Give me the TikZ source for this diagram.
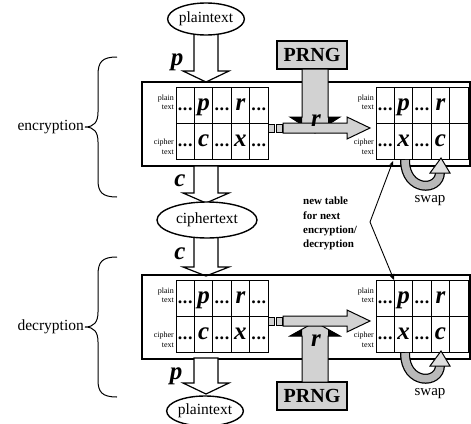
\documentclass[tikz,border=0pt]{standalone}
\usepackage{fontspec}
\setmainfont{Liberation Serif}
\usetikzlibrary{arrows.meta,shapes.geometric}
\newcommand\dd{{\fontsize{18}{18}\selectfont\bfseries\upshape.\kern0.6pt.\kern0.6pt.}}
\tikzset{
 cellbox/.style={draw, line width=0.9pt, minimum width=18.4pt, minimum height=36pt, inner sep=0pt, text height=23pt, text depth=13pt, font=\fontsize{25}{25}\selectfont\bfseries\itshape},
 lbl/.style={font=\fontsize{8}{9.5}\selectfont, align=right, anchor=east, inner sep=0pt},
 ell/.style={ellipse, draw, line width=1.4pt, fill=white, inner sep=0pt, font=\fontsize{15.5}{15.5}\selectfont},
 wblock/.style={draw, line width=1.2pt, fill=white, line join=miter},
 gblock/.style={draw, line width=1pt, fill=gray!35},
 wing/.style={fill=black},
 prngbox/.style={draw, line width=1.6pt, fill=gray!35, font=\fontsize{20}{20}\selectfont\bfseries, minimum width=70pt, minimum height=28pt, inner sep=0pt},
 framebox/.style={draw, line width=2.2pt, minimum width=328pt, minimum height=84pt, inner sep=0pt},
 var/.style={font=\fontsize{25}{25}\selectfont\bfseries\itshape, inner sep=0pt},
 side/.style={font=\fontsize{15.5}{15.5}\selectfont, anchor=east, inner sep=1pt},
 bracepath/.style={line width=1pt},
 swaplbl/.style={font=\fontsize{15}{15}\selectfont, inner sep=0pt},
 note/.style={font=\fontsize{11}{14.3}\selectfont\bfseries, align=left, anchor=north west, inner sep=0pt},
}
% table: prefix, x left, y top, row1, row2
\newcommand\celltable[5]{%
 \foreach \v [count=\i] in {#4} {\node[cellbox] (#1a\i) at ({#2+(\i-0.5)*18.4}, {#3+18}) {\v};}
 \foreach \v [count=\i] in {#5} {\node[cellbox] (#1b\i) at ({#2+(\i-0.5)*18.4}, {#3+54}) {\v};}
}
% vertical block arrow: cx, ytop, ybase, ytip, half shaft, half head, style
\newcommand\vblock[7]{%
 \draw[#7] ({#1-#5},#2) -- ({#1-#5},#3) -- ({#1-#6},#3) -- (#1,#4) -- ({#1+#6},#3) -- ({#1+#5},#3) -- ({#1+#5},#2) -- cycle;}
% black wings of a gray arrow head: cx, ybase, ytip, half shaft, half head
\newcommand\wings[5]{%
 \fill[wing] ({#1-#5},#2) -- ({#1-#4},#2) -- ({#1-#4},{#2+(#3-#2)*(#5-#4)/#5}) -- cycle;
 \fill[wing] ({#1+#5},#2) -- ({#1+#4},#2) -- ({#1+#4},{#2+(#3-#2)*(#5-#4)/#5}) -- cycle;}
% horizontal gray arrow at center y
\newcommand\hblock[1]{%
 \draw[gblock] (268,{#1-4}) rectangle (274,{#1+4});
 \draw[gblock] (276,{#1-4}) rectangle (282,{#1+4});
 \draw[gblock] (283,{#1-5}) -- (347,{#1-5}) -- (347,{#1-11}) -- (370,#1) -- (347,{#1+11}) -- (347,{#1+5}) -- (283,{#1+5}) -- cycle;}
% swap arrow below right table, y = table bottom
\newcommand\swaparrow[1]{%
 \draw[line width=10pt, line cap=butt] (405,{#1+1}) .. controls (405,{#1+33}) and (440,{#1+33}) .. (440,{#1+13});
 \draw[line width=7.5pt, gray!55, line cap=butt] (405,{#1+1}) .. controls (405,{#1+33}) and (440,{#1+33}) .. (440,{#1+13});
 \draw[gblock, fill=gray!25] (430,{#1+14}) -- (450,{#1+14}) -- (441,{#1-1}) -- cycle;}
\begin{document}
\begin{tikzpicture}[x=1pt,y=-1pt]
\useasboundingbox (0,0) rectangle (471,423);

% ---------- encryption block ----------
\vblock{206}{34}{71}{82}{12}{23}{wblock}
\node[framebox] (fr1) at (306,124) {};
\celltable{L}{176}{87}{\dd,p,\dd,r,\dd}{\dd,c,\dd,x,\dd}
\celltable{R}{376}{87}{\dd,p,\dd,r,{}}{\dd,x,\dd,c,{}}
\node[lbl] (lpl1) at (174,102.5) {plain\\text};
\node[lbl] (lci1) at (174,147) {cipher\\text};
\node[lbl] (rpl1) at (374,102.5) {plain\\text};
\node[lbl] (rci1) at (374,147) {cipher\\text};
\node[prngbox] (prng1) at (312,55) {PRNG};
\vblock{315}{69}{117}{133}{13}{25}{gblock}
\wings{315}{117}{133}{13}{25}
\hblock{128}
\node[var] (r1) at (316,121) {r};
\swaparrow{159}
\node[swaplbl] (sw1) at (430,201) {swap};

% ---------- plaintext / ciphertext ----------
\node[ell, minimum width=68pt, minimum height=32pt] (pt1) at (206,19) {plaintext};
\node[var] (vp1) at (177,62) {p};
\vblock{206}{166}{193}{203}{12}{23}{wblock}
\vblock{206}{236}{267}{276}{12}{23}{wblock}
\node[ell, minimum width=100pt, minimum height=36pt] (ct) at (207,220) {ciphertext};
\node[var] (vc1) at (180,181) {c};
\node[var] (vc2) at (180,254) {c};

% ---------- decryption block ----------
\node[framebox] (fr2) at (306,317) {};
\celltable{M}{176}{280}{\dd,p,\dd,r,\dd}{\dd,c,\dd,x,\dd}
\celltable{S}{376}{280}{\dd,p,\dd,r,{}}{\dd,x,\dd,c,{}}
\node[lbl] (lpl2) at (174,295.5) {plain\\text};
\node[lbl] (lci2) at (174,340) {cipher\\text};
\node[lbl] (rpl2) at (374,295.5) {plain\\text};
\node[lbl] (rci2) at (374,340) {cipher\\text};
\node[prngbox] (prng2) at (312,396) {PRNG};
\vblock{315}{382}{336}{322}{13}{25}{gblock}
\wings{315}{336}{322}{13}{25}
\hblock{321}
\node[var] (r2) at (316,341) {r};
\swaparrow{352}
\node[swaplbl] (sw2) at (430,394) {swap};

\vblock{206}{358}{383}{394}{12}{23}{wblock}
\node[ell, minimum width=70pt, minimum height=30pt] (pt2) at (205,411) {plaintext};
\node[var] (vp2) at (176,376) {p};

% ---------- braces ----------
\draw[bracepath] (117,57) .. controls (102,57) and (98,62) .. (98,75) -- (98,112)
  .. controls (98,122) and (94,127) .. (85,127) .. controls (94,127) and (98,132) .. (98,142)
  -- (98,180) .. controls (98,192) and (102,197) .. (117,197);
\node[side] (enc) at (85,127) {encryption};
\draw[bracepath] (117,257) .. controls (102,257) and (98,262) .. (98,275) -- (98,312)
  .. controls (98,322) and (94,327) .. (85,327) .. controls (94,327) and (98,332) .. (98,342)
  -- (98,380) .. controls (98,392) and (102,397) .. (117,397);
\node[side] (dec) at (85,327) {decryption};

% ---------- annotation ----------
\node[note] (nt) at (303,197) {new table\\for next\\encryption/\\decryption};
\coordinate (a1) at (393,161);
\coordinate (a2) at (370,222);
\coordinate (a3) at (394,280);
\draw[line width=0.9pt, {Stealth[length=5pt,width=4pt]}-{Stealth[length=6pt,width=5pt]}] (a1) -- (a2) -- (a3);
\end{tikzpicture}
\end{document}
